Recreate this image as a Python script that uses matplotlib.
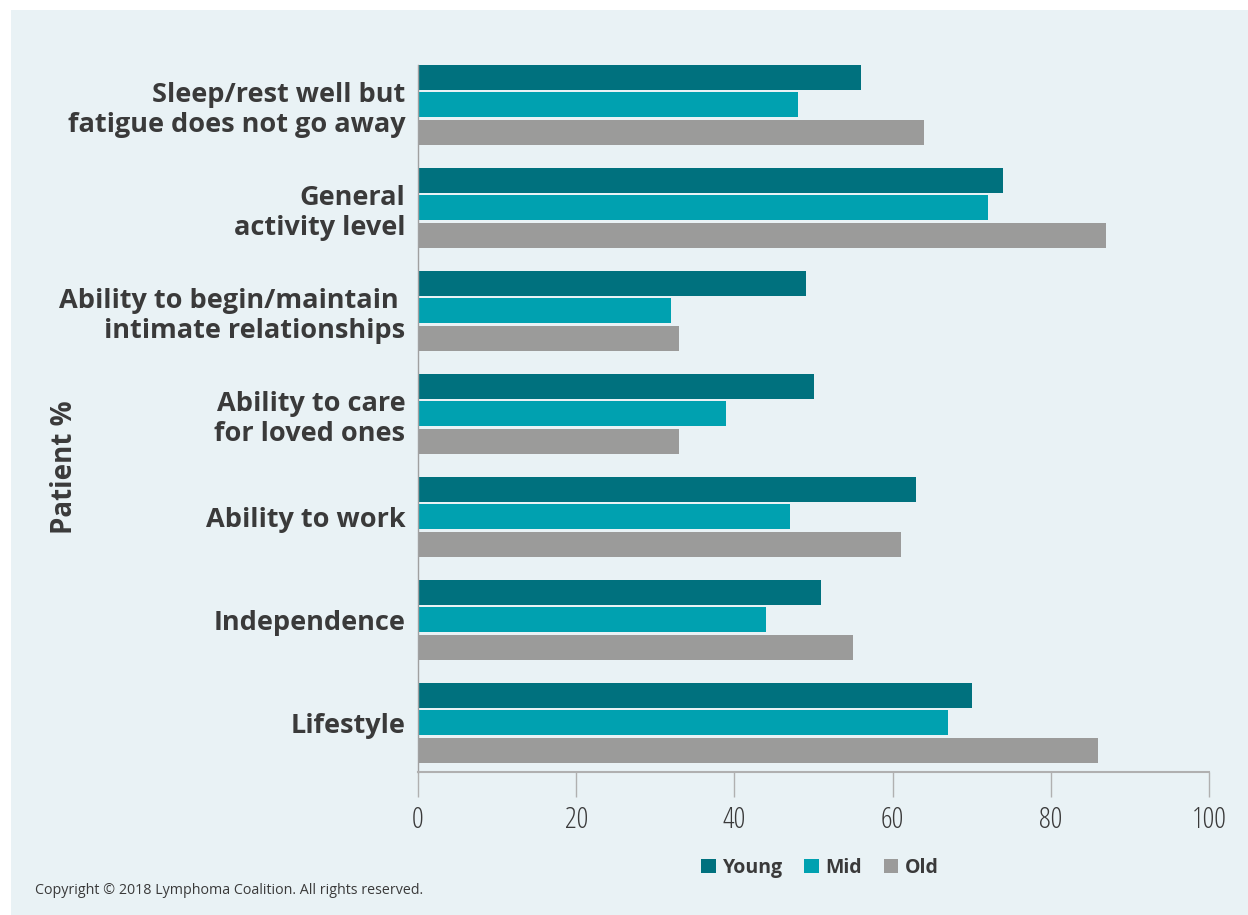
import numpy as np
import matplotlib.pyplot as plt
from matplotlib.patches import Rectangle

# Data
categories = ["Sleep/rest well but\nfatigue does not go away",
              "General\nactivity level",
              "Ability to begin/maintain \nintimate relationships",
              "Ability to care\nfor loved ones",
              "Ability to work",
              "Independence",
              "Lifestyle"]
young = [56, 74, 49, 50, 63, 51, 70]
mid = [48, 72, 32, 39, 47, 44, 67]
old = [64, 87, 33, 33, 61, 55, 86]
series_names = ["Young", "Mid", "Old"]
xticks = [0, 20, 40, 60, 80, 100]

colors = ["#00717e", "#00a1b0", "#9b9b9a"]
bg = "#e9f2f5"
txt = "#3a3a3a"
font = "Open Sans"

# Set up figure
W, H = 1248, 915
f = plt.figure(figsize=(W / 100, H / 100), dpi=100)
f.patches.append(Rectangle((11 / W, 0), 1, 1 - 10 / H, transform=f.transFigure,
                           facecolor=bg, edgecolor="none", zorder=-5))

ax = f.add_axes([418 / W, 1 - 772 / H, (1209 - 418) / W, (772 - 53) / H])
ax.set_facecolor("none")

# Plot
y = np.arange(len(categories))
off = 27.5 / 103
h = 25 / 103
for k, vals in enumerate([young, mid, old]):
    ax.barh(y + (k - 1) * off, vals, height=h, color=colors[k],
            label=series_names[k], zorder=2)

ymax = 6 + 49.5 / 103
ax.set_ylim(ymax, -0.5)
ax.set_xlim(0, 100)
ax.set_yticks(y)
ax.set_yticklabels(categories, fontsize=19.5, fontweight="bold", color=txt,
                   family=font, ha="right", multialignment="right",
                   linespacing=1.2)
ax.tick_params(axis="y", length=0, pad=9)
ax.set_xticks(xticks)
ax.set_xticklabels([str(t) for t in xticks], fontsize=21, color=txt,
                   family=font, fontstretch="condensed")
ax.tick_params(axis="x", length=18, width=1, color="#b0b0b0", pad=6)

for s in ["top", "right"]:
    ax.spines[s].set_visible(False)
ax.spines["bottom"].set_color("#b0b0b0")
ax.spines["bottom"].set_linewidth(1.5)
ax.spines["left"].set_color("#a0a0a0")
ax.spines["left"].set_linewidth(1)
ax.spines["left"].set_bounds(-off - h / 2, ymax)

f.text(65 / W, 1 - 467 / H, "Patient %", rotation=90, ha="center", va="center",
       fontsize=20, fontweight="bold", color=txt, family=font)

leg = f.legend(loc="center", bbox_to_anchor=(820 / W, 1 - 868 / H), ncol=3,
               frameon=False, handlelength=0.75, handleheight=0.75,
               handletextpad=0.35, columnspacing=1.1,
               prop={"family": font, "weight": "bold", "size": 14})
for t in leg.get_texts():
    t.set_color(txt)

f.text(35 / W, 1 - 891 / H, "Copyright \u00a9 2018 Lymphoma Coalition. All rights reserved.",
       ha="left", va="center", fontsize=10.3, color=txt, family=font)

# Save plot
plt.savefig("out.png", dpi=100, facecolor="white")
plt.close(f)
